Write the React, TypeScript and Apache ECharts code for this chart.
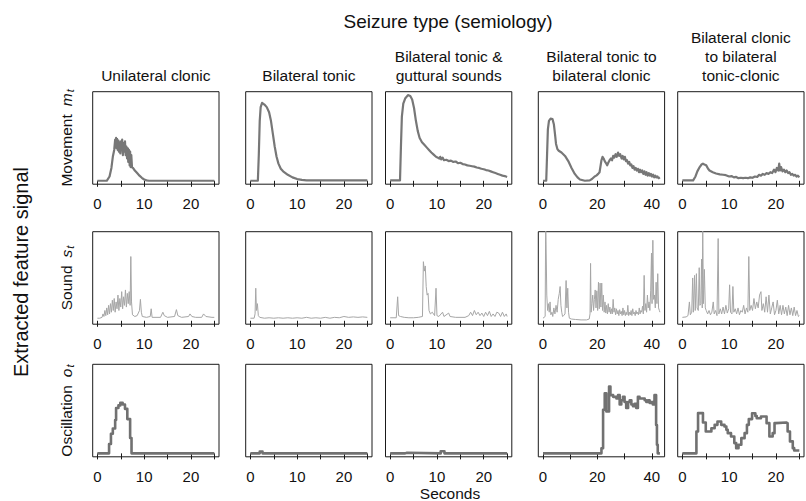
import React, { useEffect, useRef } from "react";
import * as echarts from "echarts";

type Pt = [number, number];

// ---- labels -------------------------------------------------------------
const mainTitle = "Seizure type (semiology)";
const outerYLabel = "Extracted feature signal";
const xLabel = "Seconds";
const columnTitles: string[][] = [
  ["Unilateral clonic"],
  ["Bilateral tonic"],
  ["Bilateral tonic &", "guttural sounds"],
  ["Bilateral tonic to", "bilateral clonic"],
  ["Bilateral clonic", "to bilateral", "tonic-clonic"],
];
const rowNames: [string, string][] = [
  ["Movement", "m"],
  ["Sound", "s"],
  ["Oscillation", "o"],
];

// recording length (s) of each seizure column
const durations = [25, 25, 25, 43, 25];
const tickValues: number[][] = [
  [0, 5, 10, 15, 20, 25],
  [0, 5, 10, 15, 20, 25],
  [0, 5, 10, 15, 20, 25],
  [0, 10, 20, 30, 40],
  [0, 5, 10, 15, 20, 25],
];
const tickLabels: number[][] = [
  [0, 10, 20],
  [0, 10, 20],
  [0, 10, 20],
  [0, 20, 40],
  [0, 10, 20],
];

// ---- movement m_t ---------------------------------------------------------
const movement1: Pt[] = [
  [0, 0], [2.0, 0], [2.6, 0.05], [3.0, 0.15], [3.3, 0.28], [3.6, 0.36], [3.8, 0.48], [3.9, 0.4],
  [4.0, 0.5], [4.1, 0.38], [4.2, 0.49], [4.35, 0.36], [4.5, 0.47], [4.6, 0.34], [4.75, 0.45],
  [4.9, 0.32], [5.05, 0.46], [5.2, 0.38], [5.3, 0.48], [5.45, 0.3], [5.6, 0.44], [5.75, 0.34],
  [5.9, 0.46], [6.05, 0.3], [6.2, 0.4], [6.35, 0.26], [6.5, 0.38], [6.6, 0.22], [6.75, 0.36],
  [6.9, 0.18], [7.0, 0.34], [7.1, 0.16], [7.25, 0.3], [7.4, 0.16], [7.6, 0.15], [8.0, 0.12],
  [8.5, 0.09], [9.0, 0.06], [9.5, 0.035], [10, 0.015], [10.5, 0.005], [11, 0], [25, 0],
];
const movement2: Pt[] = [
  [0, 0], [1.6, 0], [1.8, 0.3], [2.0, 0.7], [2.2, 0.86], [2.5, 0.91], [3.0, 0.89], [3.5, 0.86],
  [4.0, 0.8], [4.4, 0.7], [4.8, 0.55], [5.2, 0.4], [5.6, 0.28], [6.0, 0.2], [6.5, 0.14],
  [7.0, 0.11], [8, 0.07], [9, 0.04], [10, 0.02], [11, 0.01], [12, 0.005], [25, 0.005],
];
const movement3: Pt[] = [
  [0, 0.005], [2.1, 0.005], [2.3, 0.4], [2.5, 0.75], [2.8, 0.9], [3.2, 0.96], [3.8, 1.0],
  [4.3, 0.99], [4.7, 0.95], [5.1, 0.85], [5.5, 0.7], [5.9, 0.58], [6.3, 0.5], [6.8, 0.45],
  [7.3, 0.42], [7.8, 0.39], [8.3, 0.36], [8.8, 0.33], [9.3, 0.305], [9.8, 0.28], [10.2, 0.27],
  [10.5, 0.26], [10.7, 0.28], [10.9, 0.25], [11.2, 0.27], [11.5, 0.24], [12, 0.245],
  [12.5, 0.23], [13, 0.235], [13.5, 0.22], [14, 0.225], [14.5, 0.205], [15, 0.21],
  [15.5, 0.195], [16, 0.19], [16.5, 0.18], [17, 0.175], [17.5, 0.17], [18, 0.165],
  [18.5, 0.155], [19, 0.15], [19.5, 0.14], [20, 0.135], [20.5, 0.125], [21, 0.12],
  [21.5, 0.11], [22, 0.1], [22.5, 0.09], [23, 0.08], [23.5, 0.07], [24, 0.06], [24.5, 0.055],
  [25, 0.045],
];
const movement4: Pt[] = [
  [0, 0], [1.2, 0], [1.5, 0.3], [1.8, 0.6], [2.2, 0.7], [2.8, 0.725], [3.5, 0.72], [4.0, 0.66],
  [4.4, 0.55], [4.8, 0.43], [5.3, 0.37], [5.8, 0.35], [6.8, 0.33], [8.1, 0.29], [9.3, 0.23],
  [10.5, 0.15], [11.7, 0.08], [12.7, 0.04], [13.6, 0.015], [15.4, 0], [17.2, 0.005],
  [18.0, 0.02], [19.0, 0.05], [19.6, 0.06], [20.3, 0.08], [20.8, 0.1], [21.1, 0.16],
  [21.5, 0.24], [21.9, 0.28], [22.3, 0.26], [22.7, 0.23], [23.1, 0.21], [23.6, 0.18],
  [24.0, 0.21], [24.5, 0.24], [25.0, 0.26], [25.4, 0.24], [25.8, 0.29], [26.2, 0.27],
  [26.7, 0.31], [27.1, 0.28], [27.6, 0.33], [28.0, 0.29], [28.4, 0.31], [28.9, 0.26],
  [29.3, 0.29], [29.7, 0.25], [30.1, 0.28], [30.5, 0.23], [30.9, 0.24], [31.3, 0.2],
  [31.7, 0.22], [32.1, 0.18], [32.5, 0.19], [32.9, 0.15], [33.3, 0.17], [33.7, 0.13],
  [34.1, 0.15], [34.5, 0.12], [34.9, 0.14], [35.3, 0.1], [35.7, 0.13], [36.1, 0.1],
  [36.5, 0.12], [36.9, 0.08], [37.3, 0.11], [37.7, 0.07], [38.1, 0.1], [38.5, 0.06],
  [38.9, 0.09], [39.3, 0.06], [39.7, 0.08], [40.1, 0.05], [40.5, 0.07], [40.9, 0.04],
  [41.3, 0.06], [41.7, 0.04], [42.1, 0.05], [42.5, 0.03], [43, 0.04],
];
const movement5: Pt[] = [
  [0, 0.005], [2.3, 0.005], [2.8, 0.05], [3.2, 0.11], [3.7, 0.16], [4.1, 0.19], [4.4, 0.2],
  [4.7, 0.19], [5.1, 0.18], [5.5, 0.14], [5.8, 0.12], [6.5, 0.1], [7.2, 0.085], [8, 0.075],
  [8.7, 0.07], [9.3, 0.065], [10, 0.05], [10.5, 0.055], [11, 0.04], [11.5, 0.045], [12, 0.03],
  [12.5, 0.035], [13, 0.03], [13.5, 0.035], [14, 0.03], [14.5, 0.04], [15, 0.035],
  [15.5, 0.05], [16, 0.045], [16.4, 0.07], [16.8, 0.06], [17.2, 0.08], [17.6, 0.07],
  [18, 0.09], [18.4, 0.08], [18.8, 0.1], [19.2, 0.09], [19.6, 0.13], [19.9, 0.1], [20.2, 0.15],
  [20.5, 0.12], [20.7, 0.2], [20.9, 0.12], [21.1, 0.16], [21.4, 0.11], [21.7, 0.13], [22, 0.1],
  [22.3, 0.12], [22.6, 0.09], [22.9, 0.1], [23.2, 0.07], [23.5, 0.08], [23.8, 0.06],
  [24.1, 0.07], [24.4, 0.05], [24.7, 0.06], [25, 0.04],
];

// ---- sound s_t ------------------------------------------------------------
const sound1: Pt[] = [
  [0, 0.03], [0.5, 0.03], [1.0, 0.04], [1.2, 0.08], [1.4, 0.05], [1.6, 0.12], [1.8, 0.06],
  [2.0, 0.15], [2.2, 0.07], [2.4, 0.18], [2.6, 0.08], [2.8, 0.2], [3.0, 0.1], [3.2, 0.24],
  [3.4, 0.12], [3.6, 0.26], [3.8, 0.1], [4.0, 0.22], [4.2, 0.14], [4.4, 0.3], [4.6, 0.12],
  [4.8, 0.26], [5.0, 0.16], [5.2, 0.34], [5.4, 0.14], [5.6, 0.28], [5.8, 0.18], [6.0, 0.36],
  [6.2, 0.16], [6.4, 0.32], [6.6, 0.2], [6.8, 0.34], [7.0, 0.18], [7.15, 0.75], [7.3, 0.22],
  [7.5, 0.07], [8, 0.05], [8.5, 0.06], [9.0, 0.12], [9.2, 0.25], [9.4, 0.1], [9.6, 0.05],
  [10.5, 0.04], [11.3, 0.05], [11.5, 0.14], [11.7, 0.04], [13.5, 0.04], [14.0, 0.1],
  [14.3, 0.06], [15, 0.04], [16.5, 0.05], [16.9, 0.13], [17.2, 0.06], [18, 0.04],
  [19.5, 0.05], [19.8, 0.08], [20.2, 0.05], [21, 0.04], [22.3, 0.04], [22.7, 0.08],
  [23.2, 0.05], [24.5, 0.04], [25, 0.04],
];
const sound2: Pt[] = [
  [0, 0.03], [0.8, 0.03], [1.0, 0.08], [1.15, 0.38], [1.3, 0.12], [1.5, 0.2], [1.7, 0.06],
  [2.0, 0.04], [3, 0.03], [4, 0.035], [5, 0.03], [6, 0.035], [7, 0.03], [8, 0.035], [9, 0.03],
  [10, 0.035], [11, 0.03], [12, 0.04], [13, 0.03], [14, 0.035], [15, 0.03], [16, 0.04],
  [17, 0.03], [18, 0.04], [19, 0.035], [20, 0.05], [21, 0.04], [22, 0.045], [23, 0.04],
  [24, 0.045], [25, 0.04],
];
const sound3: Pt[] = [
  [0, 0.035], [1.3, 0.035], [1.6, 0.28], [1.8, 0.06], [2.2, 0.05], [3, 0.04], [4, 0.035],
  [5, 0.035], [6, 0.04], [6.9, 0.05], [7.1, 0.69], [7.3, 0.58], [7.5, 0.64], [7.7, 0.4],
  [7.9, 0.3], [8.1, 0.32], [8.3, 0.12], [8.6, 0.08], [9.0, 0.1], [9.5, 0.06], [9.8, 0.38],
  [10.0, 0.06], [10.4, 0.05], [11.2, 0.1], [11.5, 0.05], [12.5, 0.09], [12.8, 0.05],
  [14, 0.04], [16, 0.04], [16.8, 0.06], [17.2, 0.1], [17.6, 0.06], [18.0, 0.12], [18.4, 0.07],
  [18.8, 0.1], [19.2, 0.06], [19.6, 0.09], [20, 0.05], [20.4, 0.1], [20.8, 0.06], [21.2, 0.11],
  [21.6, 0.05], [22, 0.08], [22.4, 0.05], [22.8, 0.1], [23.2, 0.09], [23.6, 0.05], [24, 0.1],
  [24.4, 0.05], [24.8, 0.08], [25, 0.05],
];
const sound4: Pt[] = [
  [0, 0.03], [0.8, 0.05], [1.0, 1.2], [1.2, 1.2], [1.4, 0.3], [1.7, 0.12], [2.0, 0.2],
  [2.3, 0.1], [2.6, 0.22], [2.9, 0.07], [3.3, 0.1], [3.6, 0.05], [4.0, 0.15], [4.4, 0.08],
  [4.8, 0.18], [5.2, 0.1], [5.6, 0.25], [6.0, 0.32], [6.3, 0.4], [6.6, 0.18], [6.9, 0.1],
  [7.2, 0.05], [7.6, 0.06], [8.1, 0.08], [8.5, 0.47], [8.8, 0.15], [9.1, 0.38], [9.4, 0.1],
  [9.7, 0.03], [10.5, 0.02], [12, 0.015], [14, 0.01], [16, 0.01], [17, 0.02], [17.3, 0.08],
  [17.5, 0.67], [17.7, 0.1], [18, 0.2], [18.3, 0.3], [18.6, 0.12], [18.9, 0.25], [19.2, 0.36],
  [19.5, 0.15], [19.8, 0.35], [20.1, 0.12], [20.4, 0.45], [20.7, 0.14], [21.0, 0.44],
  [21.3, 0.16], [21.6, 0.44], [21.9, 0.12], [22.2, 0.3], [22.5, 0.1], [22.8, 0.22], [23.1, 0.09],
  [23.4, 0.18], [23.7, 0.08], [24.0, 0.2], [24.3, 0.1], [24.6, 0.16], [24.9, 0.08], [25.2, 0.14],
  [25.5, 0.08], [25.8, 0.25], [26.1, 0.1], [26.4, 0.15], [26.7, 0.07], [27.0, 0.14],
  [27.3, 0.08], [27.6, 0.12], [27.9, 0.06], [28.2, 0.13], [28.5, 0.08], [28.8, 0.11],
  [29.1, 0.06], [29.4, 0.15], [29.7, 0.07], [30.0, 0.12], [30.3, 0.06], [30.6, 0.1],
  [30.9, 0.07], [31.2, 0.18], [31.5, 0.06], [31.8, 0.1], [32.1, 0.07], [32.4, 0.12],
  [32.7, 0.06], [33.0, 0.14], [33.3, 0.08], [33.6, 0.1], [33.9, 0.06], [34.2, 0.12],
  [34.5, 0.08], [34.8, 0.1], [35.1, 0.07], [35.4, 0.15], [35.7, 0.08], [36.0, 0.12],
  [36.3, 0.1], [36.6, 0.17], [36.9, 0.08], [37.2, 0.53], [37.5, 0.12], [37.8, 0.2], [38.1, 0.1],
  [38.4, 0.3], [38.7, 0.15], [39.0, 0.22], [39.3, 0.12], [39.6, 0.35], [39.9, 0.79], [40.1, 0.2],
  [40.4, 0.94], [40.7, 0.25], [41.0, 0.3], [41.3, 0.15], [41.6, 0.45], [41.9, 0.2], [42.2, 0.55],
  [42.5, 0.15], [42.8, 0.12], [43, 0.1],
];
const sound5: Pt[] = [
  [0, 0.04], [0.8, 0.045], [1.2, 0.06], [1.5, 0.22], [1.7, 0.07], [2.0, 0.1], [2.2, 0.5],
  [2.35, 0.1], [2.6, 0.53], [2.75, 0.12], [3.0, 0.55], [3.15, 0.15], [3.4, 0.12], [3.6, 0.62],
  [3.75, 0.18], [3.95, 0.2], [4.1, 0.72], [4.25, 0.15], [4.35, 1.1], [4.5, 0.2], [4.7, 0.6],
  [4.9, 0.15], [5.1, 0.12], [5.4, 0.08], [5.7, 0.12], [6.0, 0.07], [6.3, 0.1], [6.6, 0.22],
  [6.8, 0.08], [7.1, 0.12], [7.4, 0.06], [7.65, 0.96], [7.8, 0.08], [8.1, 0.14], [8.4, 0.08],
  [8.7, 0.16], [9.0, 0.08], [9.3, 0.18], [9.6, 0.09], [9.9, 0.14], [10.1, 0.42], [10.3, 0.1],
  [10.6, 0.08], [10.8, 0.4], [11.0, 0.1], [11.3, 0.14], [11.6, 0.08], [11.9, 0.15], [12.2, 0.07],
  [12.5, 0.12], [12.8, 0.1], [13.1, 0.18], [13.4, 0.08], [13.7, 0.15], [14.0, 0.1], [14.2, 0.75],
  [14.4, 0.12], [14.7, 0.18], [15.0, 0.12], [15.3, 0.26], [15.6, 0.14], [15.9, 0.22],
  [16.2, 0.15], [16.5, 0.3], [16.8, 0.34], [17.0, 0.12], [17.3, 0.2], [17.6, 0.1], [17.9, 0.28],
  [18.2, 0.1], [18.5, 0.3], [18.8, 0.08], [19.1, 0.15], [19.4, 0.22], [19.7, 0.07], [20.0, 0.12],
  [20.3, 0.24], [20.6, 0.08], [20.9, 0.18], [21.2, 0.07], [21.5, 0.18], [21.8, 0.08],
  [22.1, 0.16], [22.4, 0.06], [22.7, 0.18], [23.0, 0.07], [23.3, 0.15], [23.6, 0.06],
  [23.9, 0.16], [24.2, 0.06], [24.5, 0.12], [24.8, 0.05], [25, 0.06],
];

// ---- oscillation o_t (binned, drawn as steps) ----------------------------
const oscillation1: Pt[] = [
  [0, 0], [2.5, 0.11], [2.9, 0.23], [3.3, 0.29], [3.8, 0.39], [4.0, 0.53], [4.5, 0.56],
  [4.9, 0.59], [5.4, 0.57], [5.9, 0.52], [6.4, 0.4], [7.0, 0.18], [7.3, 0], [25, 0],
];
const oscillation2: Pt[] = [[0, 0], [2.0, 0.02], [2.6, 0], [25, 0]];
const oscillation3: Pt[] = [[0, 0], [3.2, 0.008], [3.6, 0], [10.8, 0.025], [11.6, 0], [25, 0]];
const oscillation4: Pt[] = [
  [0, 0], [21.5, 0.06], [22.1, 0.51], [22.7, 0.7], [23.3, 0.49], [24.3, 0.78], [24.8, 0.68],
  [25.8, 0.66], [27.0, 0.64], [27.6, 0.68], [28.2, 0.57], [28.8, 0.62], [29.4, 0.66],
  [30.0, 0.6], [30.6, 0.53], [31.3, 0.6], [31.9, 0.62], [32.5, 0.57], [33.1, 0.55],
  [33.7, 0.58], [34.3, 0.53], [34.9, 0.66], [35.5, 0.64], [36.1, 0.64], [37.4, 0.62],
  [38.0, 0.6], [38.6, 0.62], [39.2, 0.59], [39.8, 0.6], [40.4, 0.57], [41.0, 0.68],
  [41.6, 0.33], [41.9, 0.1], [42.2, 0], [43, 0],
];
const oscillation5: Pt[] = [
  [0, 0], [3.0, 0.255], [3.35, 0.47], [4.4, 0.36], [5.0, 0.255], [6.2, 0.294], [6.9, 0.333],
  [7.5, 0.372], [8.3, 0.333], [9.0, 0.314], [9.4, 0.275], [9.7, 0.236], [10.4, 0.197],
  [11.1, 0.12], [11.5, 0.061], [12.0, 0.1], [12.6, 0.178], [13.3, 0.236], [13.8, 0.333],
  [14.2, 0.4], [14.9, 0.469], [15.6, 0.437], [15.9, 0.41], [16.8, 0.43], [18.0, 0.353],
  [18.6, 0.197], [19.3, 0.236], [19.7, 0.353], [20.0, 0.36], [22.2, 0.353], [22.5, 0.255],
  [23.0, 0.14], [23.6, 0.061], [23.9, 0.034], [25, 0.042],
];

const signals: Pt[][][] = [
  [movement1, movement2, movement3, movement4, movement5],
  [sound1, sound2, sound3, sound4, sound5],
  [oscillation1, oscillation2, oscillation3, oscillation4, oscillation5],
];

// ---- layout ---------------------------------------------------------------
const W = 806;
const H = 501;
const colLeft = [92.7, 245.7, 385.5, 538.3, 677.7];
const panelW = 126.3;
const rowTop = [91.7, 231.7, 364.3];
const panelH = 92.5;
const FONT = '"Liberation Sans", Arial, Helvetica, sans-serif';
const rowStyle = [
  { color: "#777777", width: 2.2 },
  { color: "#a6a6a6", width: 1 },
  { color: "#717171", width: 2.6 },
];

const measureCtx =
  typeof document !== "undefined" ? document.createElement("canvas").getContext("2d") : null;
function textWidth(text: string, size: number, italic = false): number {
  if (!measureCtx) return text.length * size * 0.55;
  measureCtx.font = `${italic ? "italic " : ""}${size}px ${FONT}`;
  return measureCtx.measureText(text).width;
}

function textEl(text: string, x: number, y: number, size: number, extra: any = {}) {
  return {
    type: "text",
    x,
    y,
    style: {
      text,
      fontSize: size,
      fontFamily: FONT,
      fill: "#111",
      align: "center",
      textAlign: "center",
      verticalAlign: "middle",
      textVerticalAlign: "middle",
      ...extra,
    },
    silent: true,
  };
}

// Vertical row label "Name  x_t" with italic symbol and subscript t
function rowLabel(name: string, sym: string, cx: number, cy: number) {
  const fs = 15.5;
  const sub = 11;
  const gap = 8;
  const w1 = textWidth(name, fs);
  const w2 = textWidth(sym, fs, true);
  const w3 = textWidth("t", sub, true);
  const total = w1 + gap + w2 + w3 + 1;
  const x0 = -total / 2;
  const left = { align: "left", textAlign: "left" };
  return {
    type: "group",
    x: cx,
    y: cy,
    rotation: Math.PI / 2,
    children: [
      textEl(name, x0, 0, fs, left),
      textEl(sym, x0 + w1 + gap, 0, fs, { ...left, fontStyle: "italic" }),
      textEl("t", x0 + w1 + gap + w2 + 1, 4, sub, { ...left, fontStyle: "italic" }),
    ],
  };
}

function buildOption() {
  const grid: any[] = [];
  const xAxis: any[] = [];
  const yAxis: any[] = [];
  const series: any[] = [];

  for (let r = 0; r < 3; r++) {
    for (let c = 0; c < 5; c++) {
      const idx = r * 5 + c;
      const dur = durations[c];
      const pad = dur * 0.04;
      grid.push({
        left: colLeft[c],
        top: rowTop[r],
        width: panelW,
        height: panelH,
        show: true,
        borderColor: "#1a1a1a",
        borderWidth: 1,
        backgroundColor: "transparent",
      });
      xAxis.push({
        type: "value",
        gridIndex: idx,
        min: -pad,
        max: dur + pad,
        axisLine: { show: false },
        splitLine: { show: false },
        axisTick: {
          show: true,
          length: 6,
          customValues: tickValues[c],
          lineStyle: { color: "#1a1a1a", width: 1 },
        },
        axisLabel: {
          show: true,
          customValues: tickLabels[c],
          fontSize: 15,
          fontFamily: FONT,
          color: "#111",
          margin: 12,
        },
      });
      yAxis.push({
        type: "value",
        gridIndex: idx,
        min: -0.04,
        max: 1.04,
        show: false,
        splitLine: { show: false },
      });
      series.push({
        type: "line",
        xAxisIndex: idx,
        yAxisIndex: idx,
        data: signals[r][c],
        symbol: "none",
        showSymbol: false,
        step: r === 2 ? "end" : false,
        clip: true,
        silent: true,
        lineStyle: { color: rowStyle[r].color, width: rowStyle[r].width, join: "round" },
      });
    }
  }

  const graphics: any[] = [];
  graphics.push(textEl(mainTitle, 448, 21, 19));
  columnTitles.forEach((lines, c) => {
    const cx = colLeft[c] + panelW / 2;
    lines.forEach((line, i) => {
      const y = 75 - (lines.length - 1 - i) * 19;
      graphics.push(textEl(line, cx, y, 15.5));
    });
  });
  graphics.push({
    type: "group",
    x: 21,
    y: 272,
    rotation: Math.PI / 2,
    children: [textEl(outerYLabel, 0, 0, 20)],
  });
  rowNames.forEach(([name, sym], r) => {
    graphics.push(rowLabel(name, sym, 66, rowTop[r] + panelH / 2));
  });
  graphics.push(textEl(xLabel, 450, 493, 15.5));

  return {
    animation: false,
    backgroundColor: "#ffffff",
    grid,
    xAxis,
    yAxis,
    series,
    graphic: graphics,
  };
}

export default function App() {
  const ref = useRef<HTMLDivElement>(null);
  useEffect(() => {
    if (!ref.current) return;
    const chart = echarts.init(ref.current, undefined, { renderer: "svg", width: W, height: H });
    chart.setOption(buildOption() as any);
    return () => chart.dispose();
  }, []);
  return (
    <div
      ref={ref}
      style={{ position: "fixed", left: 0, top: 0, width: W, height: H, background: "#fff" }}
    />
  );
}
